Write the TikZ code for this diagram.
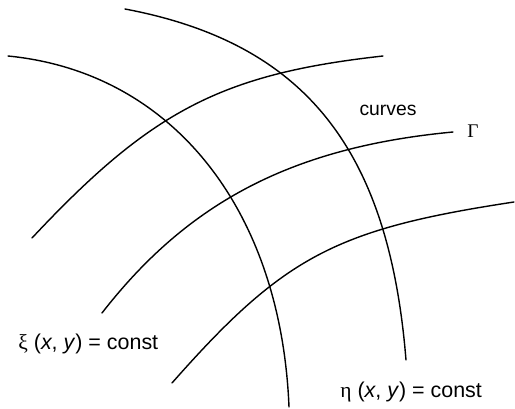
\documentclass[tikz,border=0pt]{standalone}
\usepackage{fontspec}
\setmainfont{Liberation Sans}
\newfontfamily\grk{Liberation Serif}
\usetikzlibrary{positioning}

\begin{document}
\begin{tikzpicture}[
    x=0.02cm, y=-0.02cm,
    curve/.style={line width=0.8pt, line cap=round},
    lbl/.style={font=\fontsize{11}{13}\selectfont, inner sep=0pt},
    eqlbl/.style={lbl, font=\fontsize{12.2}{14}\selectfont, anchor=west}
  ]
  \useasboundingbox (0,0) rectangle (515,409);

  % curves xi = const
  \draw[curve] (8,56) .. controls (172,72) and (281,209) .. (289,407);
  \draw[curve] (125,9) .. controls (305,43) and (389,149) .. (406,360);

  % curves eta = const
  \draw[curve] (32,238) .. controls (151,111) and (221,74) .. (383,56);
  \draw[curve] (102,313) .. controls (189,201) and (294,147) .. (453,132);
  \draw[curve] (172,383) .. controls (284,256) and (336,229) .. (514,202);

  \node[lbl] (curves) at (388,110) {curves};
  \node[lbl] (gamma) at (473,131) {\grk Γ};
  \node[eqlbl] (xi) at (18,344) {{\grk ξ} (\textit{x}, \textit{y}) = const};
  \node[eqlbl] (eta) at (340,392) {{\grk η} (\textit{x}, \textit{y}) = const};
\end{tikzpicture}
\end{document}
